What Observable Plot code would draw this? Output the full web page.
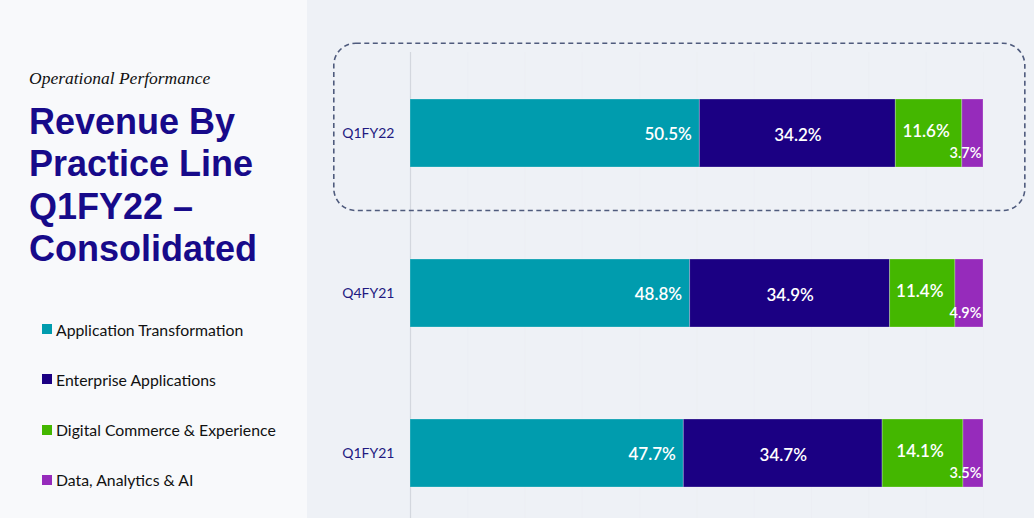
<!DOCTYPE html>
<html>
<head>
<meta charset="utf-8">
<script src="https://cdn.jsdelivr.net/npm/d3@7"></script>
<script src="https://cdn.jsdelivr.net/npm/@observablehq/plot@0.6"></script>
<style>
  html, body { margin: 0; padding: 0; }
  body { width: 1034px; height: 518px; position: relative; overflow: hidden; background: #f8f9fb; font-family: Lato, "Open Sans", sans-serif; }
  #left { position: absolute; left: 0; top: 0; width: 307px; height: 518px; background: #f8f9fb; }
  #right { position: absolute; left: 307px; top: 0; width: 727px; height: 518px; background: #eef1f6; }
  #kicker { position: absolute; left: 29px; top: 70px; font-family: "Liberation Serif", "DejaVu Serif", serif; font-style: italic; font-size: 17.5px; line-height: 1; color: #111; white-space: nowrap; }
  #title { position: absolute; left: 29px; top: 101px; margin: 0; font-family: "Liberation Sans", Arial, sans-serif; font-weight: bold; font-size: 36px; line-height: 42.3px; color: #170a8a; }
  #legend { position: absolute; left: 42px; top: 0; }
  .li { position: absolute; left: 0; display: flex; align-items: center; white-space: nowrap; font-size: 15.8px; color: #111; height: 20px; }
  .sw { width: 10px; height: 10px; margin-right: 4px; flex: none; }
</style>
</head>
<body>
<div id="left">
  <div id="kicker">Operational Performance</div>
  <h1 id="title">Revenue By<br>Practice Line<br>Q1FY22 –<br>Consolidated</h1>
  <div id="legend"></div>
</div>
<div id="right"></div>
<script>
// ---- data ----
const periods = ["Q1FY22", "Q4FY21", "Q1FY21"];
const practiceLines = ["Application Transformation", "Enterprise Applications", "Digital Commerce & Experience", "Data, Analytics & AI"];
const lineColors = ["#009cae", "#1b0083", "#44b700", "#962bbb"];
const shareQ1FY22 = [50.5, 34.2, 11.6, 3.7];
const shareQ4FY21 = [48.8, 34.9, 11.4, 4.9];
const shareQ1FY21 = [47.7, 34.7, 14.1, 3.5];
const highlightPeriod = "Q1FY22";

// ---- build table ----
const sharesByPeriod = [shareQ1FY22, shareQ4FY21, shareQ1FY21];
const rows = [];
periods.forEach((p, i) => {
  let acc = 0;
  sharesByPeriod[i].forEach((v, j) => {
    rows.push({period: p, line: practiceLines[j], idx: j, value: v, x1: acc, x2: acc + v, label: v.toFixed(1) + "%"});
    acc += v;
  });
});
const mid = d => (d.x1 + d.x2) / 2;

// ---- legend ----
const legend = document.getElementById("legend");
practiceLines.forEach((name, j) => {
  const el = document.createElement("div");
  el.className = "li";
  el.style.top = (319 + j * 50.3) + "px";
  el.innerHTML = `<span class="sw" style="background:${lineColors[j]}"></span><span>${name}</span>`;
  legend.appendChild(el);
});

// ---- chart ----
const plot = Plot.plot({
  width: 727,
  height: 518,
  marginLeft: 103,
  marginRight: 51,
  marginTop: 52,
  marginBottom: 0,
  style: {background: "transparent", fontFamily: "Lato, sans-serif", fontSize: "14px", color: "#1e1a82", overflow: "visible"},
  x: {domain: [0, 100], axis: null},
  y: {domain: periods, paddingInner: 0.577, paddingOuter: 0.2385, align: 0.597, label: null, tickSize: 0, tickPadding: 16},
  color: {domain: practiceLines, range: lineColors},
  marks: [
    Plot.ruleX(d3.range(10, 101, 10), {stroke: "#e4e7ee", strokeOpacity: 0.15}),
    Plot.ruleX([0], {stroke: "#d3d7de", strokeWidth: 1.2}),
    Plot.barX(rows, {x1: "x1", x2: "x2", y: "period", fill: "line", stroke: "#ffffff", strokeOpacity: 0.25, strokeWidth: 1}),
    Plot.text(rows.filter(d => d.idx === 0), {x: "x2", y: "period", text: "label", textAnchor: "end", dx: -8, dy: 1, fill: "white", fontSize: 17, fontWeight: 600}),
    Plot.text(rows.filter(d => d.idx === 1), {x: mid, y: "period", text: "label", dy: 2, fill: "white", fontSize: 17, fontWeight: 600}),
    Plot.text(rows.filter(d => d.idx === 2), {x: mid, y: "period", text: "label", dx: -3, dy: -2, fill: "white", fontSize: 17, fontWeight: 600}),
    Plot.text(rows.filter(d => d.idx === 3), {x: "x2", y: "period", text: "label", textAnchor: "end", dx: -2, dy: 20, fill: "white", fontSize: 14.5, fontWeight: 600})
  ]
});

// highlight annotation (dashed rounded box around the latest quarter)
const xs = plot.scale("x"), ys = plot.scale("y");
const bw = ys.bandwidth;
const yTop = ys.apply(highlightPeriod);
d3.select(plot).append("rect")
  .attr("x", xs.apply(-13.3))
  .attr("y", yTop - bw * 0.82)
  .attr("width", xs.apply(107.3) - xs.apply(-13.3))
  .attr("height", bw * 2.46)
  .attr("rx", 22)
  .attr("fill", "none")
  .attr("stroke", "#4f5b7d")
  .attr("stroke-width", 1.6)
  .attr("stroke-dasharray", "5,3.5");

document.getElementById("right").appendChild(plot);
</script>
</body>
</html>
